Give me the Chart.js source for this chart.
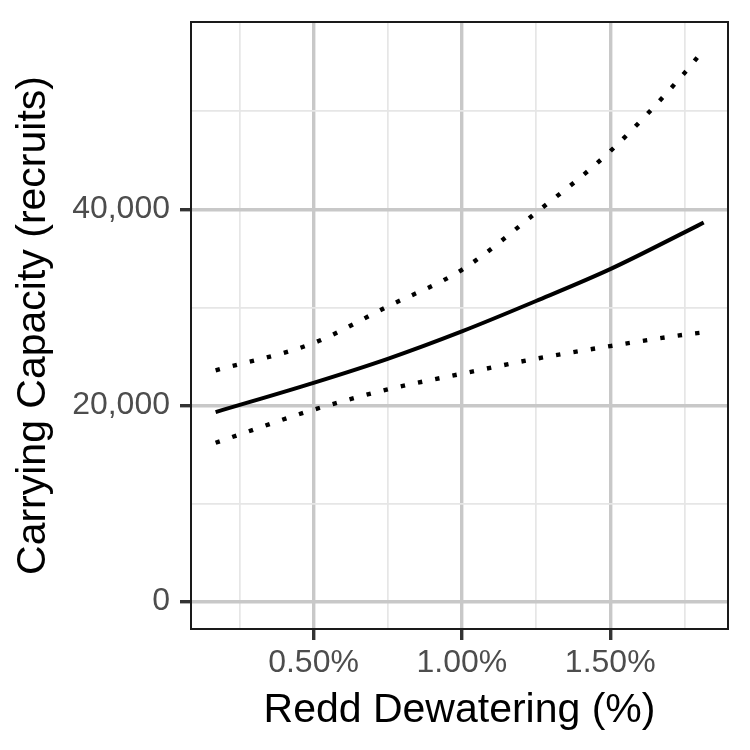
<!DOCTYPE html>
<html>
<head>
<meta charset="utf-8">
<script src="https://cdn.jsdelivr.net/npm/chart.js@4/dist/chart.umd.min.js"></script>
<style>
  html, body { margin: 0; padding: 0; background: #ffffff; }
  #chart { display: block; }
</style>
</head>
<body>
<canvas id="chart" width="750" height="750"></canvas>
<script>
// redd dewatering (%) and carrying capacity
const dewater = [0.17, 0.5, 0.75, 1.0, 1.25, 1.5, 1.75, 1.815];
const capacity = [19320, 22300, 24750, 27550, 30650, 33900, 37650, 38650];
const upperCI = [23570, 26360, 30100, 33830, 39660, 45930, 53900, 56300];
const lowerCI = [16190, 19560, 21630, 23230, 24760, 26050, 27210, 27450];

const xMajor = [0.5, 1.0, 1.5];
const xMajorLabels = ['0.50%', '1.00%', '1.50%'];
const xMinor = [0.25, 0.75, 1.25, 1.75];
const yMajor = [0, 20000, 40000];
const yMajorLabels = ['0', '20,000', '40,000'];
const yMinor = [10000, 30000, 50000];

const FONT = '"Liberation Sans", Arial, Helvetica, sans-serif';

function pts(ys) {
    return dewater.map((x, i) => ({x: x, y: ys[i]}));
}

function isMajor(list, v) {
    return list.some(m => Math.abs(m - v) < 1e-9);
}

// ggplot style panel border on top
const panelBorder = {
    id: 'panelBorder',
    afterDraw(chart) {
        const {ctx, chartArea} = chart;
        ctx.save();
        ctx.strokeStyle = '#1a1a1a';
        ctx.lineWidth = 2;
        ctx.strokeRect(chartArea.left, chartArea.top,
            chartArea.right - chartArea.left, chartArea.bottom - chartArea.top);
        ctx.restore();
    }
};

const lineStyle = {
    borderColor: '#000000',
    backgroundColor: '#000000',
    pointRadius: 0,
    fill: false,
    cubicInterpolationMode: 'monotone',
    borderCapStyle: 'butt'
};

const ctx = document.getElementById('chart').getContext('2d');
const chart = new Chart(ctx, {
    type: 'line',
    data: {
        datasets: [
            Object.assign({label: 'upper', data: pts(upperCI), borderWidth: 4.4, borderDash: [4.4, 13.2]}, lineStyle),
            Object.assign({label: 'lower', data: pts(lowerCI), borderWidth: 4.4, borderDash: [4.4, 13.2]}, lineStyle),
            Object.assign({label: 'fit', data: pts(capacity), borderWidth: 4}, lineStyle)
        ]
    },
    options: {
        responsive: false,
        animation: false,
        devicePixelRatio: 1,
        layout: {padding: {left: 0, top: 22, right: 22, bottom: 0}},
        plugins: {legend: {display: false}, tooltip: {enabled: false}},
        scales: {
            x: {
                type: 'linear',
                min: 0.087,
                max: 1.897,
                afterBuildTicks: scale => {
                    scale.ticks = xMinor.concat(xMajor).sort((a, b) => a - b).map(v => ({value: v}));
                },
                afterFit: scale => {
                    scale.height = 121;
                    scale.paddingLeft = 0;
                    scale.paddingRight = 0;
                },
                border: {display: false},
                grid: {
                    color: c => isMajor(xMajor, c.tick.value) ? '#c8c8c8' : '#e6e6e6',
                    lineWidth: c => isMajor(xMajor, c.tick.value) ? 3.4 : 1.7,
                    tickColor: c => isMajor(xMajor, c.tick.value) ? '#333333' : 'rgba(0,0,0,0)',
                    tickWidth: 3.4,
                    tickLength: 11
                },
                ticks: {
                    autoSkip: false,
                    maxRotation: 0,
                    padding: 4,
                    color: '#4d4d4d',
                    font: {family: FONT, size: 32},
                    callback: v => {
                        const i = xMajor.findIndex(m => Math.abs(m - v) < 1e-9);
                        return i >= 0 ? xMajorLabels[i] : '';
                    }
                },
                title: {
                    display: true,
                    text: 'Redd Dewatering (%)',
                    color: '#000000',
                    font: {family: FONT, size: 41},
                    padding: {top: 0, bottom: 15}
                }
            },
            y: {
                type: 'linear',
                min: -2815,
                max: 59115,
                afterBuildTicks: scale => {
                    scale.ticks = yMinor.concat(yMajor).sort((a, b) => a - b).map(v => ({value: v}));
                },
                afterFit: scale => {
                    scale.width = 191;
                    scale.paddingTop = 0;
                    scale.paddingBottom = 0;
                },
                border: {display: false},
                grid: {
                    color: c => isMajor(yMajor, c.tick.value) ? '#c8c8c8' : '#e6e6e6',
                    lineWidth: c => isMajor(yMajor, c.tick.value) ? 3.4 : 1.7,
                    tickColor: c => isMajor(yMajor, c.tick.value) ? '#333333' : 'rgba(0,0,0,0)',
                    tickWidth: 3.4,
                    tickLength: 11
                },
                ticks: {
                    autoSkip: false,
                    padding: 10,
                    color: '#4d4d4d',
                    font: {family: FONT, size: 32},
                    callback: v => {
                        const i = yMajor.findIndex(m => Math.abs(m - v) < 1e-9);
                        return i >= 0 ? yMajorLabels[i] : '';
                    }
                },
                title: {
                    display: true,
                    text: 'Carrying Capacity (recruits)',
                    color: '#000000',
                    font: {family: FONT, size: 41},
                    padding: {top: 9, bottom: 0}
                }
            }
        }
    },
    plugins: [panelBorder]
});
</script>
</body>
</html>
